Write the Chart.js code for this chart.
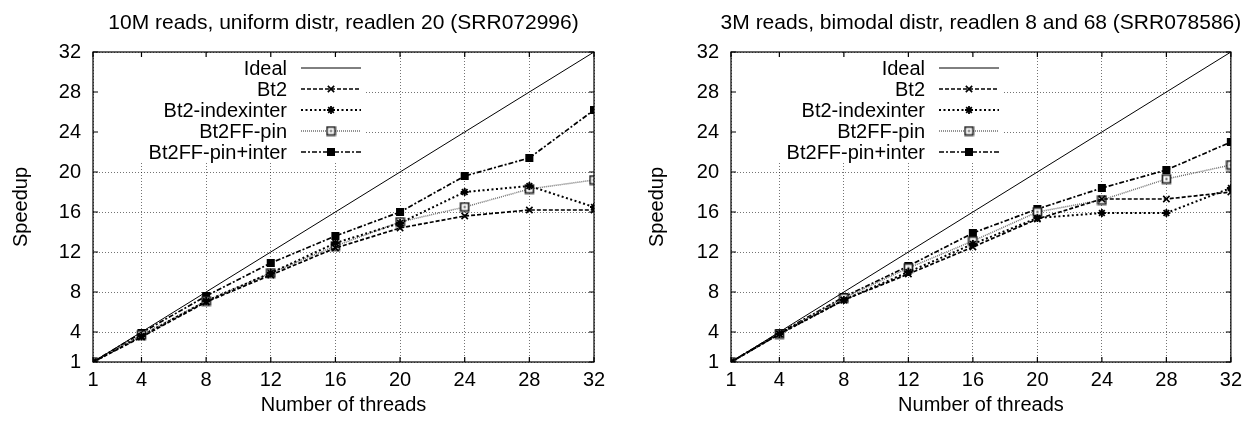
<!DOCTYPE html>
<html>
<head>
<meta charset="utf-8">
<script src="https://cdn.jsdelivr.net/npm/chart.js@4/dist/chart.umd.min.js"></script>
<style>
  body { margin: 0; background: #fff; }
  #wrap { display: flex; width: 1248px; height: 423px; }
  canvas { display: block; }
</style>
</head>
<body>
<div id="wrap">
  <canvas id="uniChart" width="624" height="423"></canvas>
  <canvas id="biChart" width="624" height="423"></canvas>
</div>
<script>
// x values and tick labels
const threads = [1, 4, 8, 12, 16, 20, 24, 28, 32];
const speedTicks = [1, 4, 8, 12, 16, 20, 24, 28, 32];
const seriesNames = ['Ideal', 'Bt2', 'Bt2-indexinter', 'Bt2FF-pin', 'Bt2FF-pin+inter'];

// ideal speedup
const ideal = [1, 4, 8, 12, 16, 20, 24, 28, 32];

// SRR072996 (left)
const uniBt2        = [1, 3.5, 7.0, 9.7, 12.4, 14.4, 15.6, 16.2, 16.2];
const uniIndexInter = [1, 3.6, 7.1, 9.9, 12.9, 14.9, 18.0, 18.6, 16.5];
const uniPin        = [1, 3.7, 7.1, 9.9, 12.6, 15.0, 16.5, 18.3, 19.2];
const uniPinInter   = [1, 3.9, 7.6, 10.9, 13.6, 16.0, 19.6, 21.4, 26.2];

// SRR078586 (right)
const biBt2        = [1, 3.8, 7.2, 9.8, 12.5, 15.3, 17.3, 17.3, 18.0];
const biIndexInter = [1, 3.8, 7.2, 10.0, 12.8, 15.4, 15.9, 15.9, 18.4];
const biPin        = [1, 3.8, 7.4, 10.4, 13.1, 16.0, 17.2, 19.3, 20.7];
const biPinInter   = [1, 3.9, 7.5, 10.6, 13.9, 16.3, 18.4, 20.2, 23.0];

const FONT = '"Liberation Sans", Arial, Helvetica, sans-serif';

// open square with a dot in the middle (gnuplot point type)
function pinMarker() {
    const c = document.createElement('canvas');
    c.width = 11; c.height = 11;
    const g = c.getContext('2d');
    g.fillStyle = '#fff';
    g.fillRect(1, 1, 9, 9);
    g.strokeStyle = '#222';
    g.lineWidth = 1.7;
    g.strokeRect(1.5, 1.5, 8, 8);
    g.fillStyle = '#444';
    g.fillRect(4.5, 4.5, 2, 2);
    return c;
}

const styles = [
    { borderColor: '#000', borderWidth: 1, borderDash: [], pointRadius: 0 },
    { borderColor: '#000', borderWidth: 1.7, borderDash: [4, 2], pointStyle: 'crossRot', pointRadius: 4.5,
      pointBorderWidth: 1.6, pointBorderColor: '#000', pointBackgroundColor: '#000' },
    { borderColor: '#000', borderWidth: 2, borderDash: [2, 2.5], pointStyle: 'star', pointRadius: 4,
      pointBorderWidth: 1.8, pointBorderColor: '#000', pointBackgroundColor: '#000' },
    { borderColor: '#6f6f6f', borderWidth: 1.5, borderDash: [1, 1], pointStyle: pinMarker(), pointRadius: 5,
      pointBorderWidth: 0, pointBorderColor: '#333', pointBackgroundColor: '#fff' },
    { borderColor: '#000', borderWidth: 1.7, borderDash: [5, 2, 2, 2], pointStyle: 'rect', pointRadius: 5.7,
      pointBorderWidth: 0, pointBorderColor: '#000', pointBackgroundColor: '#000' }
];

function toPoints(vals) {
    return threads.map((t, i) => ({ x: t, y: vals[i] }));
}

// title + key + frame with inward ticks, like gnuplot
const gnuFrame = {
    id: 'gnuFrame',
    afterDraw(chart, args, opts) {
        const { ctx, chartArea: a, scales: { x, y } } = chart;
        ctx.save();

        // title centred over the plot box
        ctx.fillStyle = '#000';
        ctx.font = '21px ' + FONT;
        ctx.textAlign = 'center';
        ctx.textBaseline = 'middle';
        ctx.fillText(opts.title, (a.left + a.right) / 2, 23);

        // key box hides the grid behind it
        ctx.fillStyle = '#fff';
        ctx.fillRect(a.left + 1, a.top + 1, 272, 110);

        ctx.font = '20px ' + FONT;
        ctx.textAlign = 'right';
        chart.data.datasets.forEach((ds, i) => {
            const ky = a.top + 16 + i * 21;
            ctx.fillStyle = '#000';
            ctx.fillText(ds.label, a.left + 194, ky + 1);
            ctx.strokeStyle = ds.borderColor;
            ctx.lineWidth = ds.borderWidth;
            ctx.setLineDash(ds.borderDash);
            ctx.beginPath();
            ctx.moveTo(a.left + 208, ky);
            ctx.lineTo(a.left + 268, ky);
            ctx.stroke();
            ctx.setLineDash([]);
            if (ds.pointRadius > 0) {
                ctx.fillStyle = ds.pointBackgroundColor;
                ctx.strokeStyle = ds.pointBorderColor;
                ctx.lineWidth = ds.pointBorderWidth;
                Chart.helpers.drawPoint(ctx, {
                    pointStyle: ds.pointStyle, radius: ds.pointRadius,
                    rotation: 0, borderWidth: ds.pointBorderWidth
                }, a.left + 238, ky);
            }
        });

        // border
        ctx.setLineDash([]);
        ctx.strokeStyle = '#000';
        ctx.lineWidth = 1.2;
        ctx.strokeRect(a.left, a.top, a.right - a.left, a.bottom - a.top);

        // tick marks on all four sides
        ctx.beginPath();
        threads.forEach(v => {
            const px = x.getPixelForValue(v);
            ctx.moveTo(px, a.bottom); ctx.lineTo(px, a.bottom - 5);
            ctx.moveTo(px, a.top); ctx.lineTo(px, a.top + 5);
        });
        speedTicks.forEach(v => {
            const py = y.getPixelForValue(v);
            ctx.moveTo(a.left, py); ctx.lineTo(a.left + 5, py);
            ctx.moveTo(a.right, py); ctx.lineTo(a.right - 5, py);
        });
        ctx.stroke();
        ctx.restore();
    }
};

function makeChart(canvasId, title, seriesList, yWidth, rightPad, yTitlePad) {
    const datasets = seriesList.map((vals, i) => Object.assign({
        label: seriesNames[i],
        data: toPoints(vals),
        fill: false,
        tension: 0
    }, styles[i]));

    return new Chart(document.getElementById(canvasId), {
        type: 'line',
        data: { datasets },
        options: {
            responsive: false,
            animation: false,
            layout: { padding: { left: 0, right: rightPad, top: 52, bottom: 0 } },
            plugins: {
                legend: { display: false },
                tooltip: { enabled: false },
                title: { display: false },
                gnuFrame: { title: title }
            },
            scales: {
                x: {
                    type: 'linear', min: 1, max: 32,
                    afterBuildTicks: s => { s.ticks = threads.map(v => ({ value: v })); },
                    afterFit: s => { s.height = 61; },
                    ticks: { color: '#000', font: { family: FONT, size: 20 }, padding: 6, maxRotation: 0, autoSkip: false },
                    grid: { color: 'rgba(0,0,0,0.55)', drawTicks: false },
                    border: { display: false, dash: [1, 2] },
                    title: { display: true, text: 'Number of threads', color: '#000',
                             font: { family: FONT, size: 20 }, padding: { top: 0, bottom: 6 } }
                },
                y: {
                    type: 'linear', min: 1, max: 32,
                    afterBuildTicks: s => { s.ticks = speedTicks.map(v => ({ value: v })); },
                    afterFit: s => { s.width = yWidth; },
                    ticks: { color: '#000', font: { family: FONT, size: 20 }, padding: 12 },
                    grid: { color: 'rgba(0,0,0,0.55)', drawTicks: false },
                    border: { display: false, dash: [1, 2] },
                    title: { display: true, text: 'Speedup', color: '#000',
                             font: { family: FONT, size: 20 }, padding: { top: yTitlePad, bottom: 0 } }
                }
            }
        },
        plugins: [gnuFrame]
    });
}

makeChart('uniChart', '10M reads, uniform distr, readlen 20 (SRR072996)',
    [ideal, uniBt2, uniIndexInter, uniPin, uniPinInter], 93, 30, 9);
makeChart('biChart', '3M reads, bimodal distr, readlen 8 and 68 (SRR078586)',
    [ideal, biBt2, biIndexInter, biPin, biPinInter], 107, 16, 21);
</script>
</body>
</html>
